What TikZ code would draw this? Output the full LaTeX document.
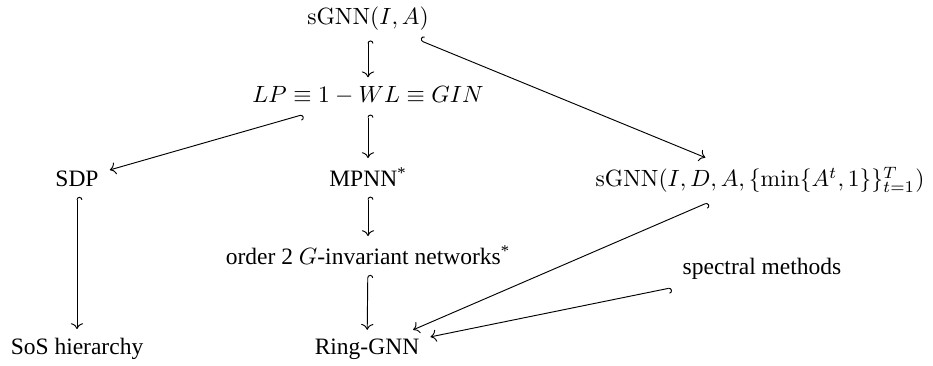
\documentclass[tikz,border=0pt]{standalone}
\usepackage[no-math]{fontspec}
\setmainfont{Liberation Serif}
\usetikzlibrary{arrows.meta}
\tikzset{
  incl/.style={{Hooks[right]}-{Computer Modern Rightarrow}},
  cell/.style={anchor=base, font=\rmfamily, inner xsep=1ex, inner ysep=0.85ex}
}
\begin{document}
\begin{tikzpicture}[x=0.4255pt, y=-0.4255pt]
    \useasboundingbox (0,0) rectangle (933,366);

    % the models, row by row
    \node[cell] (sgnnIA) at (368,25) {$\mathrm{sGNN}(I,A)$};
    \node[cell] (lp) at (368,103) {$LP \equiv 1-WL \equiv GIN$};
    \node[cell] (sdp) at (77,187) {SDP};
    \node[cell] (mpnn) at (368,187) {MPNN\textsuperscript{*}};
    \node[cell] (sgnnIDA) at (760,187) {$\mathrm{sGNN}(I,D,A,\{\min\{A^t,1\}\}_{t=1}^T)$};
    \node[cell] (inv) at (368,265) {order 2 $G$-invariant networks\textsuperscript{*}};
    \node[cell] (spec) at (762,275) {spectral methods};
    \node[cell] (sos) at (77,355) {SoS hierarchy};
    \node[cell] (ring) at (367,355) {Ring-GNN};

    % the inclusions
    \draw[incl] (sgnnIA) -- (lp);
    \draw[incl] (sgnnIA) -- (sgnnIDA);
    \draw[incl] (lp) -- (sdp);
    \draw[incl] (lp) -- (mpnn);
    \draw[incl] (sdp) -- (sos);
    \draw[incl] (mpnn) -- (inv);
    \draw[incl] (inv) -- (ring);
    \draw[incl] (sgnnIDA) -- (ring);
    \draw[incl] (spec) -- (ring);

\end{tikzpicture}
\end{document}
